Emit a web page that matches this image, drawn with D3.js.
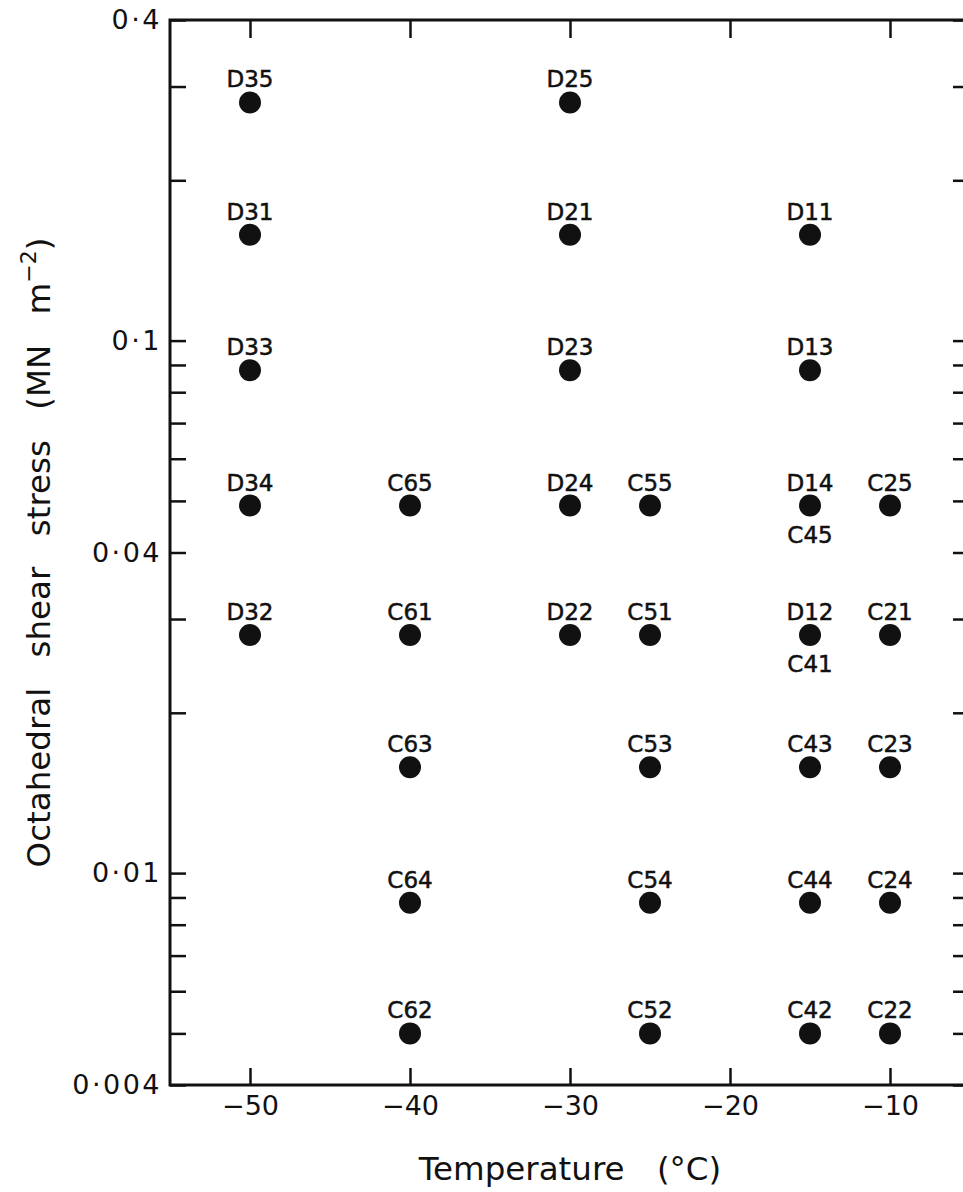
<!DOCTYPE html>
<html>
<head>
<meta charset="utf-8">
<script src="https://cdn.jsdelivr.net/npm/d3@7"></script>
<style>
  body { margin: 0; background: #fff; }
  text { font-family: "DejaVu Sans", sans-serif; fill: #111; }
</style>
</head>
<body>
<div id="chart"></div>
<script>
// specimen names, test temperature (deg C) and octahedral shear stress (MN m^-2)
var specimens = ["D35", "D25",
                 "D31", "D21", "D11",
                 "D33", "D23", "D13",
                 "D34", "C65", "D24", "C55", "D14", "C45", "C25",
                 "D32", "C61", "D22", "C51", "D12", "C41", "C21",
                 "C63", "C53", "C43", "C23",
                 "C64", "C54", "C44", "C24",
                 "C62", "C52", "C42", "C22"];
var temperatures = [-50, -30,
                    -50, -30, -15,
                    -50, -30, -15,
                    -50, -40, -30, -25, -15, -15, -10,
                    -50, -40, -30, -25, -15, -15, -10,
                    -40, -25, -15, -10,
                    -40, -25, -15, -10,
                    -40, -25, -15, -10];
var stresses = [0.28, 0.28,
                0.158, 0.158, 0.158,
                0.088, 0.088, 0.088,
                0.049, 0.049, 0.049, 0.049, 0.049, 0.049, 0.049,
                0.028, 0.028, 0.028, 0.028, 0.028, 0.028, 0.028,
                0.0158, 0.0158, 0.0158, 0.0158,
                0.0088, 0.0088, 0.0088, 0.0088,
                0.005, 0.005, 0.005, 0.005];

var xTicks = [-50, -40, -30, -20, -10];
var yLabelTicks = [0.4, 0.1, 0.04, 0.01, 0.004];
var yMinorTicks = [0.3, 0.2, 0.09, 0.08, 0.07, 0.06, 0.05, 0.03, 0.02,
                   0.009, 0.008, 0.007, 0.006, 0.005];

function init() {
    var w = 963;
    var h = 1192;
    var left = 170, right = 970, top = 20, bottom = 1085;

    var svg = d3.select("#chart").append("svg")
        .attr("width", w)
        .attr("height", h);

    var x = d3.scaleLinear().domain([-55, -5]).range([left, right]);
    var y = d3.scaleLog().domain([0.004, 0.4]).range([bottom, top]);

    var yAll = yLabelTicks.concat(yMinorTicks);
    var fmtY = function(d) {
        return yLabelTicks.indexOf(d) >= 0 ? String(d).replace(".", "\u00b7") : "";
    };
    var fmtX = function(d) { return String(d).replace("-", "\u2212"); };

    // axes, ticks pointing inwards
    var gl = svg.append("g")
        .attr("transform", "translate(" + left + ",0)")
        .call(d3.axisLeft(y).tickValues(yAll).tickSize(-16).tickPadding(8).tickFormat(fmtY));
    gl.selectAll("text").style("font-size", "27px").style("letter-spacing", "2.5px");

    svg.append("g")
        .attr("transform", "translate(" + right + ",0)")
        .call(d3.axisRight(y).tickValues(yAll).tickSize(-17).tickFormat(""));

    var gb = svg.append("g")
        .attr("transform", "translate(0," + bottom + ")")
        .call(d3.axisBottom(x).tickValues(xTicks).tickSize(-17).tickPadding(11).tickFormat(fmtX));
    gb.selectAll("text").style("font-size", "27px");

    svg.append("g")
        .attr("transform", "translate(0," + top + ")")
        .call(d3.axisTop(x).tickValues(xTicks).tickSize(-18).tickFormat(""));

    svg.selectAll(".domain").remove();
    svg.selectAll(".tick line").attr("stroke", "#111").attr("stroke-width", 2.5);

    // frame
    svg.append("rect")
        .attr("x", left).attr("y", top)
        .attr("width", right - left).attr("height", bottom - top)
        .attr("fill", "none").attr("stroke", "#111").attr("stroke-width", 3);

    // points; a second specimen at the same spot gets its label below the dot
    var seen = {};
    var data = specimens.map(function(s, i) {
        var key = temperatures[i] + "_" + stresses[i];
        var below = !!seen[key];
        seen[key] = true;
        return { name: s, t: temperatures[i], s: stresses[i], below: below };
    });

    svg.selectAll("circle.pt")
        .data(data.filter(function(d) { return !d.below; }))
        .enter().append("circle")
        .attr("class", "pt")
        .attr("cx", function(d) { return x(d.t); })
        .attr("cy", function(d) { return y(d.s); })
        .attr("r", 11)
        .attr("fill", "#111");

    svg.selectAll("text.lbl")
        .data(data)
        .enter().append("text")
        .attr("class", "lbl")
        .attr("x", function(d) { return x(d.t); })
        .attr("y", function(d) { return y(d.s) + (d.below ? 37 : -15); })
        .attr("text-anchor", "middle")
        .style("font-size", "23px")
        .style("stroke", "#111")
        .style("stroke-width", 0.5)
        .text(function(d) { return d.name; });

    // axis titles
    svg.append("text")
        .attr("x", (left + right) / 2)
        .attr("y", 1180)
        .attr("text-anchor", "middle")
        .style("font-size", "32.5px")
        .style("word-spacing", "22px")
        .text("Temperature (\u00b0C)");

    var yt = svg.append("text")
        .attr("transform", "translate(50," + (top + bottom) / 2 + ") rotate(-90)")
        .attr("text-anchor", "middle")
        .style("font-size", "32.5px")
        .style("word-spacing", "20px");
    yt.append("tspan").text("Octahedral shear stress (MN m");
    yt.append("tspan").attr("dy", -14).style("font-size", "22px").text("\u22122");
    yt.append("tspan").attr("dy", 14).text(")");
}

window.onload = init;
</script>
</body>
</html>
